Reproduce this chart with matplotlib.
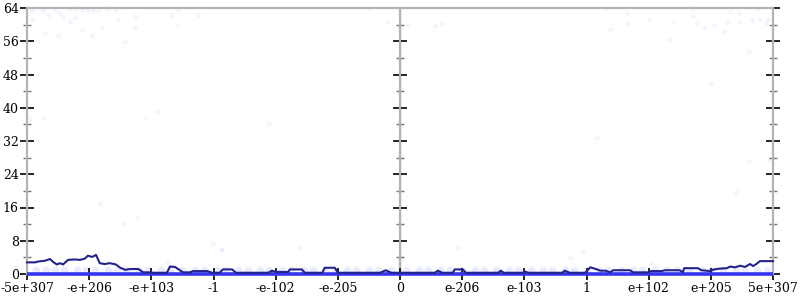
import matplotlib
matplotlib.use('Agg')
import matplotlib.pyplot as plt
from matplotlib.ticker import MultipleLocator, NullFormatter

plt.rcParams['font.family'] = 'DejaVu Serif'
plt.rcParams['font.size'] = 9

# x axis: evenly spaced float-range buckets, one unit per label
tick_pos = list(range(-6, 7))
tick_labels = ['-5e+307', '-e+206', '-e+103', '-1', '-e-102', '-e-205', '0',
               'e-206', 'e-103', '1', 'e+102', 'e+205', '5e+307']

# running mean of the error (dark line)
mean_x = [-6.0, -5.87, -5.82, -5.71, -5.63, -5.58, -5.52, -5.47, -5.42, -5.34,
          -5.23, -5.15, -5.07, -5.02, -4.95, -4.89, -4.83, -4.75, -4.67, -4.57,
          -4.50, -4.42, -4.34, -4.21, -4.13, -4.02, -3.97, -3.75, -3.70, -3.62,
          -3.54, -3.49, -3.38, -3.33, -3.10, -3.02, -2.90, -2.85, -2.70, -2.64,
          -2.12, -2.06, -1.99, -1.80, -1.77, -1.58, -1.53, -1.25, -1.21, -1.05,
          -1.00, -0.32, -0.23, -0.14, 0.0,
          0.56, 0.61, 0.68, 0.85, 0.88, 1.01, 1.06, 1.58, 1.62, 1.67,
          1.98, 2.01, 2.06, 2.61, 2.65, 2.73, 2.98, 3.06, 3.15, 3.22,
          3.31, 3.38, 3.43, 3.70, 3.75, 3.99, 4.04, 4.21, 4.26, 4.50,
          4.55, 4.57, 4.79, 4.85, 4.99, 5.05, 5.15, 5.26, 5.31, 5.39,
          5.47, 5.55, 5.63, 5.68, 5.74, 5.79, 6.0]
mean_y = [2.8, 2.8, 3.0, 3.2, 3.6, 2.9, 2.3, 2.6, 2.3, 3.4,
          3.5, 3.4, 3.7, 4.4, 4.1, 4.6, 2.6, 2.4, 2.6, 2.3,
          1.5, 1.0, 1.2, 1.2, 0.4, 0.4, 0.3, 0.3, 1.8, 1.7,
          0.9, 0.4, 0.4, 0.7, 0.7, 0.3, 0.3, 1.1, 1.1, 0.3,
          0.3, 0.8, 0.5, 0.5, 1.1, 1.1, 0.3, 0.3, 1.5, 1.5,
          0.3, 0.3, 0.9, 0.3, 0.3,
          0.3, 0.8, 0.3, 0.3, 1.1, 1.1, 0.3, 0.3, 0.8, 0.3,
          0.3, 0.6, 0.3, 0.3, 0.8, 0.3, 0.3, 1.6, 1.2, 0.8,
          0.8, 0.4, 0.9, 0.9, 0.4, 0.4, 0.7, 0.7, 0.9, 0.9,
          0.4, 1.4, 1.4, 0.9, 0.7, 1.1, 1.3, 1.4, 1.8, 1.6,
          2.0, 1.7, 2.4, 1.9, 2.5, 3.1, 3.1]

# bulk of the samples: zero error
zero_x = [-6.0, 6.0]
zero_y = [0, 0]

# samples with one ulp of error
one_x = [-5.85, -5.7, -5.55, -5.4, -5.2, -5.05, -4.9, -4.7, -4.55, -4.4,
         -4.2, -4.05, -3.85, -3.7, -3.5, -3.3, -3.15, -2.95, -2.8, -2.6,
         -2.45, -2.25, -2.1, -1.9, -1.75, -1.55, -1.4, -1.2, -1.05, -0.85,
         -0.7, -0.5, -0.35, -0.15, 0.1, 0.3, 0.45, 0.65, 0.8, 1.0,
         1.2, 1.35, 1.55, 1.75, 1.9, 2.1, 2.3, 2.45, 2.65, 2.8,
         3.0, 3.2, 3.35, 3.55, 3.75, 3.9, 4.1, 4.3, 4.45, 4.65,
         4.85, 5.0, 5.2, 5.4, 5.55, 5.75, 5.9]
one_y = [1.0] * len(one_x)

# sparse outliers
out_x = [-5.92, -5.74, -5.66, -5.55, -5.47, -5.42, -5.31, -5.23, -5.12, -5.02,
         -4.94, -4.86, -4.71, -4.58, -5.92, -5.31, -5.23, -4.80, -4.54, -4.26,
         -4.26, -5.71, -5.82, -5.50, -5.12, -4.95, -4.42, -3.67, -3.57, -3.59,
         -3.25, -5.95, -5.74, -4.10, -3.91, -2.11, -4.83, -4.44, -4.23, -3.01,
         -2.86, -1.61, -0.21, 0.11, 0.56, 0.68, -0.51, 0.93, 3.17, 5.61,
         5.94, 5.40, 3.33, 3.65, 3.38, 3.67, 4.01, 4.39, 4.71, 4.71,
         4.78, 4.89, 5.05, 5.21, 5.26, 5.31, 5.45, 5.47, 5.66, 5.76,
         5.79, 5.89, 5.92, 4.33, 5.61, 5.00, -3.75, -2.88, 2.73, 2.94, 4.05]
out_y = [63.5, 63.5, 62.3, 63.5, 62.8, 61.9, 64.0, 64.0, 63.6, 63.6,
         63.3, 63.3, 64.0, 63.6, 61.0, 60.7, 61.5, 59.5, 61.2, 62.0,
         59.5, 57.9, 56.1, 57.5, 58.7, 57.3, 55.7, 62.3, 63.5, 60.0,
         62.3, 37.2, 37.5, 37.5, 39.2, 36.0, 17.2, 12.3, 13.5, 7.4,
         5.9, 6.2, 60.7, 59.9, 59.7, 60.3, 64.0, 6.3, 32.8, 27.2,
         27.7, 19.8, 64.0, 62.9, 58.9, 60.2, 61.0, 60.6, 64.0, 62.1,
         60.3, 59.5, 59.9, 58.5, 60.5, 63.1, 62.9, 60.6, 61.0, 64.0,
         61.3, 60.3, 61.3, 56.5, 53.7, 46.0, 3.0, 5.8, 3.8, 5.4, 2.6]

fig = plt.figure(figsize=(8, 3), dpi=100)
ax = fig.add_axes([27 / 800, 26 / 300, 746 / 800, 266 / 300])

ax.scatter(out_x, out_y, s=12, color='#0000ff', alpha=0.045, linewidths=0,
           clip_on=False, zorder=2)
ax.scatter(one_x, one_y, s=30, color='#0000ff', alpha=0.08, linewidths=0,
           clip_on=False, zorder=2)
ax.plot(zero_x, zero_y, color='#3535ee', linewidth=2.6, solid_capstyle='butt',
        clip_on=False, zorder=3)
ax.plot(mean_x, mean_y, color='#23238c', linewidth=1.5, clip_on=False, zorder=4)

ax.set_xlim(-6, 6)
ax.set_ylim(0, 64)

grey = '#b4b4b4'
for side in ['left', 'right', 'top']:
    ax.spines[side].set_color(grey)
    ax.spines[side].set_linewidth(1.6)
ax.spines['bottom'].set_visible(False)
ax.axvline(0, color=grey, linewidth=1.6, zorder=1)

ax.set_xticks(tick_pos)
ax.set_xticklabels(tick_labels)
ax.yaxis.set_major_locator(MultipleLocator(8))
ax.yaxis.set_minor_locator(MultipleLocator(4))

ax.tick_params(axis='x', direction='inout', length=8, width=1.2, color='black', pad=2)
ax.tick_params(axis='y', which='major', direction='inout', length=10, width=1.2,
               color='black', right=True, labelright=False, pad=1)
ax.tick_params(axis='y', which='minor', direction='inout', length=6, width=1,
               color='#777777', right=True)

# tick marks on the centre axis at zero
mid = ax.secondary_yaxis(0.5)
mid.spines['left'].set_visible(False)
mid.yaxis.set_major_locator(MultipleLocator(8))
mid.yaxis.set_minor_locator(MultipleLocator(4))
mid.yaxis.set_major_formatter(NullFormatter())
mid.tick_params(which='major', direction='inout', length=10, width=1.2,
                color='black')
mid.tick_params(which='minor', direction='inout', length=6, width=1,
                color='#777777')

fig.savefig('out.png', dpi=100)
